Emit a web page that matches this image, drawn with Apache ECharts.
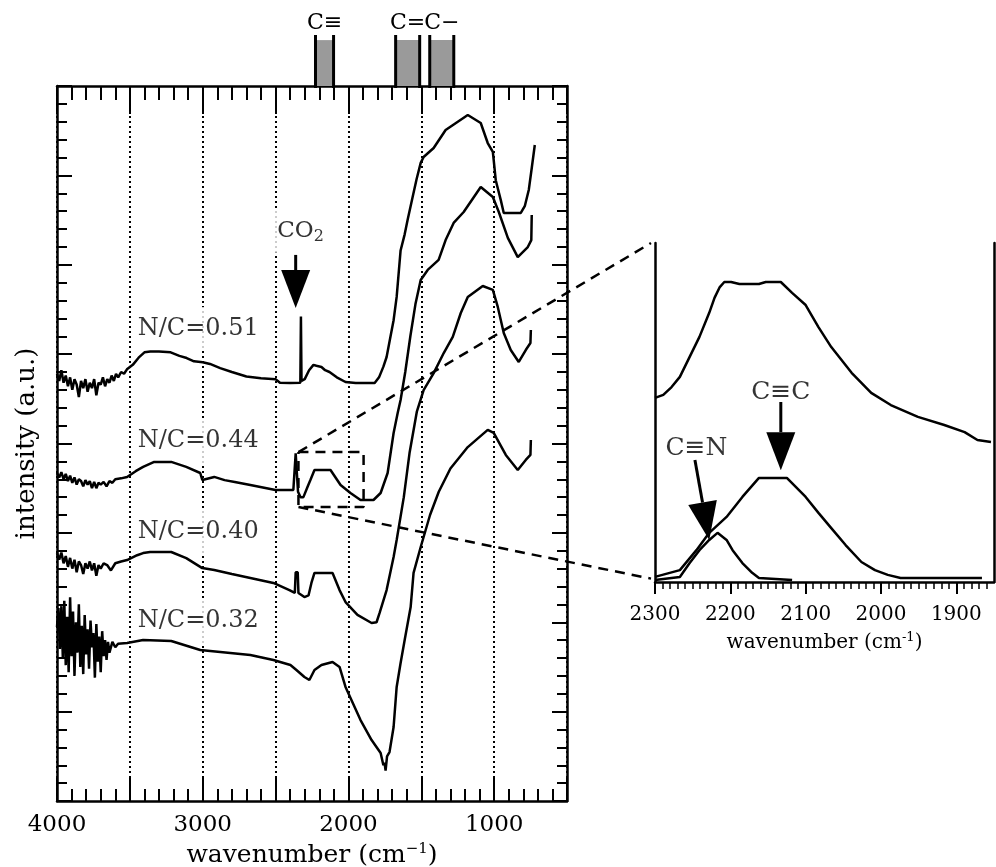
<!DOCTYPE html>
<html>
<head>
<meta charset="utf-8">
<script src="https://cdn.jsdelivr.net/npm/echarts@6.0.0/dist/echarts.min.js"></script>
<style>html,body{margin:0;padding:0;background:#fff}#chart{width:996px;height:867px}</style>
</head>
<body>
<div id="chart"></div>
<script>
// ---- IR spectra, [wavenumber cm^-1, intensity a.u.] ----
const spec051 = [[4000,23.9],[3985,23.5],[3970,24.1],[3955,23.4],[3940,23.8],[3925,23.2],[3910,23.7],[3895,23.0],[3880,23.6],[3865,23.3],[3850,22.6],[3835,23.5],[3820,23.1],[3805,23.6],[3790,22.9],[3775,23.4],[3760,23.1],[3745,23.6],[3730,22.7],[3715,23.4],[3700,23.3],[3685,23.7],[3670,23.2],[3655,23.6],[3640,23.4],[3625,23.8],[3610,23.5],[3595,23.9],[3580,23.7],[3560,24.0],[3540,23.9],[3520,24.15],[3480,24.4],[3440,24.8],[3400,25.1],[3360,25.15],[3300,25.15],[3220,25.1],[3160,24.9],[3110,24.78],[3060,24.6],[3000,24.55],[2950,24.45],[2880,24.22],[2800,24.0],[2700,23.75],[2600,23.65],[2500,23.6],[2470,23.4],[2400,23.38],[2330,23.4],[2326,27.1],[2322,23.5],[2310,23.4],[2300,23.6],[2270,24.1],[2240,24.4],[2220,24.35],[2185,24.28],[2160,24.1],[2130,24.0],[2080,23.7],[2020,23.44],[1950,23.38],[1820,23.38],[1790,23.7],[1760,24.3],[1738,24.84],[1711,26.0],[1690,26.9],[1669,28.2],[1642,30.8],[1614,31.7],[1594,32.5],[1559,33.8],[1532,34.8],[1504,35.7],[1484,36.03],[1415,36.53],[1333,37.54],[1181,38.38],[1092,37.93],[1044,36.81],[1009,36.31],[1003,35.86],[989,34.73],[954,33.6],[934,32.9],[817,32.9],[789,33.3],[762,34.2],[741,35.47],[728,35.5],[721,36.7]];
const spec044 = [[4000,18.35],[3985,18.1],[3970,18.4],[3955,18.0],[3940,18.3],[3925,17.9],[3910,18.2],[3895,17.8],[3880,18.1],[3865,17.7],[3850,18.0],[3835,17.9],[3820,17.6],[3805,17.95],[3790,17.7],[3775,17.9],[3760,17.5],[3745,17.85],[3730,17.5],[3715,17.8],[3700,17.7],[3680,17.85],[3660,17.6],[3640,17.9],[3620,17.8],[3600,18.0],[3560,18.05],[3519,18.13],[3460,18.45],[3409,18.69],[3333,18.97],[3216,18.97],[3113,18.69],[3017,18.35],[3003,17.96],[2921,18.13],[2850,17.95],[2780,17.85],[2673,17.68],[2501,17.4],[2378,17.4],[2366,17.45],[2362,19.45],[2350,19.4],[2346,17.3],[2329,17.0],[2309,17.0],[2281,17.57],[2261,17.96],[2233,18.52],[2123,18.52],[2054,17.68],[1986,17.23],[1917,16.84],[1828,16.84],[1779,17.23],[1731,18.35],[1690,20.59],[1662,21.71],[1642,22.43],[1610,24.0],[1575,26.0],[1540,27.8],[1504,29.15],[1456,29.71],[1381,30.27],[1333,31.38],[1278,32.34],[1209,32.95],[1092,34.35],[1009,33.79],[968,32.95],[906,31.5],[838,30.43],[769,30.99],[745,31.38],[742,32.78]];
const spec040 = [[4000,13.87],[3985,13.5],[3970,13.9],[3955,13.3],[3940,13.7],[3925,13.1],[3910,13.6],[3895,13.0],[3880,13.5],[3865,12.8],[3850,13.4],[3835,13.2],[3820,12.7],[3805,13.3],[3790,13.0],[3775,13.4],[3760,12.9],[3745,13.3],[3730,12.6],[3715,13.2],[3700,13.0],[3680,13.3],[3656,13.2],[3630,12.9],[3600,13.3],[3560,13.4],[3519,13.48],[3450,13.75],[3409,13.87],[3361,13.93],[3216,13.93],[3113,13.59],[3003,13.03],[2921,12.92],[2800,12.7],[2673,12.48],[2515,12.2],[2405,11.8],[2368,11.64],[2362,12.8],[2348,12.8],[2343,11.64],[2302,11.41],[2274,11.5],[2254,12.2],[2233,12.76],[2109,12.76],[2061,11.8],[2020,11.13],[1938,10.41],[1841,9.96],[1807,10.0],[1786,10.52],[1738,11.8],[1690,13.65],[1669,14.6],[1620,17.0],[1580,19.5],[1530,21.8],[1484,22.99],[1415,23.94],[1346,25.06],[1284,25.96],[1229,27.3],[1181,28.2],[1078,28.81],[1009,28.59],[975,27.64],[934,26.18],[886,25.23],[831,24.56],[783,25.23],[751,25.62],[748,26.35]];
const spec032 = [[4000,9.73],[3990,10.8],[3980,8.5],[3970,10.9],[3960,8.0],[3950,11.2],[3940,7.6],[3930,10.3],[3920,7.2],[3910,11.4],[3900,8.1],[3890,10.6],[3880,7.0],[3870,10.0],[3860,8.3],[3850,11.0],[3840,7.5],[3830,9.8],[3820,7.1],[3810,10.4],[3800,8.2],[3790,9.6],[3780,7.4],[3770,10.1],[3760,8.6],[3750,9.4],[3740,6.9],[3730,9.9],[3720,7.8],[3710,9.2],[3700,7.2],[3690,9.5],[3680,8.1],[3670,9.0],[3660,7.9],[3650,8.9],[3640,8.3],[3620,8.9],[3600,8.6],[3581,8.8],[3519,8.84],[3409,9.01],[3216,8.95],[3017,8.45],[2673,8.17],[2515,7.89],[2398,7.61],[2357,7.33],[2302,6.94],[2268,6.77],[2233,7.33],[2185,7.61],[2109,7.78],[2061,7.5],[2020,6.38],[1917,4.53],[1841,3.41],[1779,2.69],[1760,2.0],[1752,2.13],[1745,1.7],[1735,2.5],[1718,2.74],[1690,4.14],[1669,6.38],[1642,7.72],[1614,9.01],[1573,10.85],[1553,12.76],[1504,14.21],[1440,16.0],[1380,17.3],[1300,18.6],[1181,19.8],[1044,20.76],[1003,20.59],[920,19.36],[838,18.52],[783,19.08],[751,19.36],[748,20.2]];

// ---- enlarged 2300-1850 region and its two fitted components ----
const detailSpec = [[2300,54.3],[2289,55.2],[2278,57.5],[2267,60.5],[2254,66.4],[2241,72.3],[2228,79.4],[2221,83.8],[2214,87.0],[2208,88.5],[2199,88.5],[2188,87.9],[2162,87.9],[2153,88.5],[2133,88.5],[2118,85.3],[2100,81.7],[2083,75.2],[2066,69.3],[2039,61.7],[2013,55.8],[1987,52.2],[1951,48.7],[1916,46.3],[1889,44.2],[1872,41.9],[1854,41.3]];
const fitCC = [[2300,1.5],[2267,3.5],[2245,9.4],[2228,14.5],[2205,19.2],[2184,25.1],[2162,30.7],[2125,30.7],[2100,25.1],[2083,20.4],[2066,15.9],[2047,10.9],[2026,5.9],[2008,3.5],[1991,2.1],[1974,1.2],[1866,1.2]];
const fitCN = [[2300,0.6],[2267,1.5],[2254,5.6],[2241,9.4],[2228,12.4],[2217,14.5],[2205,12.4],[2197,9.4],[2184,5.6],[2171,2.7],[2162,1.2],[2118,0.6]];

// ---- labels and annotations ----
const ncLabels = [['N/C=0.51',3031,26.41],['N/C=0.44',3031,20.14],['N/C=0.40',3031,15.05],['N/C=0.32',3031,10.07]];
const co2Label = ['CO2',2329,31.9];
const co2Arrow = [[2362,30.55,2362,27.58]];           // [x0,y0,xTip,yTip]
const detailArrows = [[2133,53.1,2133,33.0],[2247,36.0,2228,12.4]];
const detailLabels = [['C≡C',2133,55.8],['C≡N',2245,39.5]];
const zoomWn = [2343,1896];
const zoomV = [16.45,19.52];
const bondRanges = [[2226,2102],[1676,1511],[1442,1277]];
const bondNames = ['C≡','C=','C−'];
const xTickLabels = [4000,3000,2000,1000];
const detailTicks = [2300,2200,2100,2000,1900];
const detailMinor = [];
for (let w = 1860; w < 2300; w += 10) if (w % 100 !== 0) detailMinor.push(w);

const FONT = '"DejaVu Serif", serif';
const BLACK = '#000';

const chart = echarts.init(document.getElementById('chart'), null, {renderer: 'canvas'});

function frameAxisX(pos, major, minor, showLabel) {
  return {
    type: 'value', gridIndex: 0, position: pos, min: 500, max: 4000, interval: 500, inverse: true,
    axisLine: {show: true, onZero: false, lineStyle: {color: BLACK, width: 2.5}},
    axisTick: {show: true, inside: true, length: major, lineStyle: {color: BLACK, width: 2}},
    minorTick: {show: true, splitNumber: 5, length: minor, lineStyle: {color: BLACK, width: 2}},
    axisLabel: {show: showLabel, color: BLACK, fontFamily: FONT, fontSize: 23, margin: 13,
      formatter: v => xTickLabels.includes(v) ? String(v) : ''},
    splitLine: {show: pos === 'bottom', lineStyle: {color: BLACK, width: 2, type: [2, 3]}},
    minorSplitLine: {show: false}
  };
}
function frameAxisY(pos, name) {
  return {
    type: 'value', gridIndex: 0, position: pos, min: 0, max: 40, interval: 5,
    axisLine: {show: true, onZero: false, lineStyle: {color: BLACK, width: 2.5}},
    axisTick: {show: true, inside: true, length: 15, lineStyle: {color: BLACK, width: 2}},
    minorTick: {show: true, splitNumber: 5, length: 10, lineStyle: {color: BLACK, width: 2}},
    axisLabel: {show: false}, splitLine: {show: false},
    name: name || '', nameLocation: 'middle', nameGap: 17,
    nameTextStyle: {color: BLACK, fontFamily: FONT, fontSize: 26}
  };
}

function arrowItem(params, api) {
  const p0 = api.coord([api.value(0), api.value(1)]);
  const p1 = api.coord([api.value(2), api.value(3)]);
  const dx = p1[0] - p0[0], dy = p1[1] - p0[1];
  const len = Math.hypot(dx, dy);
  const ux = dx / len, uy = dy / len;
  const headLen = 38, headW = 29;
  const bx = p1[0] - ux * headLen, by = p1[1] - uy * headLen;
  const nx = -uy, ny = ux;
  return {type: 'group', children: [
    {type: 'line', shape: {x1: p0[0], y1: p0[1], x2: bx, y2: by}, style: {stroke: BLACK, lineWidth: 3}},
    {type: 'polygon', shape: {points: [[bx + nx * headW / 2, by + ny * headW / 2], [bx - nx * headW / 2, by - ny * headW / 2], [p1[0], p1[1]]]}, style: {fill: BLACK}}
  ]};
}

function bondItem(params, api) {
  const xa = api.value(0), xb = api.value(1);
  const bl = api.coord([xa, 0]), br = api.coord([xb, 0]);
  const tl = api.coord([xa, 1]);
  const shadeTop = api.coord([xa, 0.9])[1];
  const low = bl[1] + 2;
  const cx = (bl[0] + br[0]) / 2;
  return {type: 'group', children: [
    {type: 'rect', shape: {x: bl[0], y: shadeTop, width: br[0] - bl[0], height: bl[1] - shadeTop}, style: {fill: '#9a9a9a'}},
    {type: 'line', shape: {x1: bl[0], y1: tl[1], x2: bl[0], y2: low}, style: {stroke: BLACK, lineWidth: 3}},
    {type: 'line', shape: {x1: br[0], y1: tl[1], x2: br[0], y2: low}, style: {stroke: BLACK, lineWidth: 3}},
    {type: 'text', style: {text: bondNames[params.dataIndex], x: cx, y: tl[1] - 12, align: 'center', verticalAlign: 'middle', fontFamily: FONT, fontSize: 22, fill: BLACK}}
  ]};
}

const specLine = (name, data) => ({
  name, type: 'line', xAxisIndex: 0, yAxisIndex: 0, data, symbol: 'none', z: 3,
  lineStyle: {color: BLACK, width: 2.5}, animation: false
});

const option = {
  backgroundColor: '#fff',
  animation: false,
  grid: [
    {left: 57, top: 86, width: 510, height: 715, outerBoundsMode: 'none'},
    {left: 655, top: 243, width: 339, height: 339, outerBoundsMode: 'none'},
    {left: 57, top: 35, width: 510, height: 51, outerBoundsMode: 'none'}
  ],
  xAxis: [
    Object.assign(frameAxisX('bottom', 24, 12, true), {
      name: '{m|wavenumber (cm}{s|−1}{m|)}', nameLocation: 'middle', nameGap: 36,
      nameTextStyle: {rich: {
        m: {fontFamily: FONT, fontSize: 25, color: BLACK, lineHeight: 28},
        s: {fontFamily: FONT, fontSize: 15, color: BLACK, lineHeight: 15, verticalAlign: 'top'}
      }}
    }),
    frameAxisX('top', 28, 14, false),
    {
      type: 'value', gridIndex: 1, position: 'bottom', min: 1850, max: 2300, inverse: true,
      axisLine: {show: true, onZero: false, lineStyle: {color: BLACK, width: 2.5}},
      axisTick: {show: true, inside: false, length: 12, customValues: detailTicks, lineStyle: {color: BLACK, width: 2}},
      axisLabel: {show: true, customValues: detailTicks, color: BLACK, fontFamily: FONT, fontSize: 20, margin: 23,
        formatter: v => String(v)},
      splitLine: {show: false},
      name: '{m|wavenumber (cm}{s|-1}{m|)}', nameLocation: 'middle', nameGap: 49,
      nameTextStyle: {rich: {
        m: {fontFamily: FONT, fontSize: 20, color: BLACK, lineHeight: 24},
        s: {fontFamily: FONT, fontSize: 13, color: BLACK, lineHeight: 13, verticalAlign: 'top'}
      }}
    },
    {
      type: 'value', gridIndex: 1, position: 'bottom', min: 1850, max: 2300, inverse: true,
      axisLine: {show: false},
      axisTick: {show: true, inside: false, length: 7, customValues: detailMinor, lineStyle: {color: BLACK, width: 1.5}},
      axisLabel: {show: false}, splitLine: {show: false}
    },
    {type: 'value', gridIndex: 2, min: 500, max: 4000, inverse: true, show: false}
  ],
  yAxis: [
    frameAxisY('left', 'intensity (a.u.)'),
    frameAxisY('right'),
    {type: 'value', gridIndex: 1, position: 'left', min: 0, max: 100,
      axisLine: {show: true, onZero: false, lineStyle: {color: BLACK, width: 2.5}},
      axisTick: {show: false}, axisLabel: {show: false}, splitLine: {show: false}},
    {type: 'value', gridIndex: 1, position: 'right', min: 0, max: 100,
      axisLine: {show: true, onZero: false, lineStyle: {color: BLACK, width: 2.5}},
      axisTick: {show: false}, axisLabel: {show: false}, splitLine: {show: false}},
    {type: 'value', gridIndex: 2, min: 0, max: 1, show: false}
  ],
  series: [
    specLine('N/C=0.51', spec051),
    specLine('N/C=0.44', spec044),
    specLine('N/C=0.40', spec040),
    specLine('N/C=0.32', spec032),
    {
      name: 'zoom', type: 'line', xAxisIndex: 0, yAxisIndex: 0, symbol: 'none', z: 4,
      data: [[zoomWn[0], zoomV[1]], [zoomWn[1], zoomV[1]], [zoomWn[1], zoomV[0]], [zoomWn[0], zoomV[0]], [zoomWn[0], zoomV[1]]],
      lineStyle: {color: BLACK, width: 2.5, type: [10, 7]}
    },
    {
      name: 'sample labels', type: 'scatter', xAxisIndex: 0, yAxisIndex: 0, z: 2,
      symbolSize: 1, itemStyle: {color: 'rgba(0,0,0,0)'},
      data: ncLabels.map(d => ({name: d[0], value: [d[1], d[2]]})),
      label: {show: true, position: 'inside', formatter: p => p.name, color: BLACK, fontFamily: FONT, fontSize: 24,
        lineHeight: 30, backgroundColor: '#fff', padding: [8, 4, 6, 4]}
    },
    {
      name: 'co2 label', type: 'scatter', xAxisIndex: 0, yAxisIndex: 0, z: 2,
      symbolSize: 1, itemStyle: {color: 'rgba(0,0,0,0)'},
      data: [{name: co2Label[0], value: [co2Label[1], co2Label[2]]}],
      label: {show: true, position: 'inside', formatter: '{m|CO}{s|2}', backgroundColor: '#fff', padding: [8, 4, 8, 4],
        rich: {
          m: {fontFamily: FONT, fontSize: 23, color: BLACK, lineHeight: 28},
          s: {fontFamily: FONT, fontSize: 16, color: BLACK, lineHeight: 16, verticalAlign: 'bottom'}
        }}
    },
    {
      name: 'co2 arrow', type: 'custom', xAxisIndex: 0, yAxisIndex: 0, z: 5, clip: false,
      renderItem: arrowItem, data: co2Arrow
    },
    {name: 'spectrum', type: 'line', xAxisIndex: 2, yAxisIndex: 2, data: detailSpec, symbol: 'none', lineStyle: {color: BLACK, width: 2.5}},
    {name: 'C≡C', type: 'line', xAxisIndex: 2, yAxisIndex: 2, data: fitCC, symbol: 'none', lineStyle: {color: BLACK, width: 2.5}},
    {name: 'C≡N', type: 'line', xAxisIndex: 2, yAxisIndex: 2, data: fitCN, symbol: 'none', lineStyle: {color: BLACK, width: 2.5}},
    {
      name: 'detail arrows', type: 'custom', xAxisIndex: 2, yAxisIndex: 2, z: 5, clip: false,
      renderItem: arrowItem, data: detailArrows
    },
    {
      name: 'detail labels', type: 'scatter', xAxisIndex: 2, yAxisIndex: 2, z: 5,
      symbolSize: 1, itemStyle: {color: 'rgba(0,0,0,0)'},
      data: detailLabels.map(d => ({name: d[0], value: [d[1], d[2]]})),
      label: {show: true, position: 'inside', formatter: p => p.name, color: BLACK, fontFamily: FONT, fontSize: 25}
    },
    {
      name: 'bonds', type: 'custom', xAxisIndex: 4, yAxisIndex: 4, clip: false,
      renderItem: bondItem, data: bondRanges
    }
  ]
};
chart.setOption(option);

// dashed guide lines from the boxed region to the enlarged panel
const a = chart.convertToPixel({seriesIndex: 4}, [zoomWn[0], zoomV[1]]);
const b = chart.convertToPixel({seriesIndex: 4}, [zoomWn[0], zoomV[0]]);
const c = chart.convertToPixel({seriesIndex: 8}, [2300, 100]);
const d = chart.convertToPixel({seriesIndex: 8}, [2300, 1]);
const guide = {stroke: BLACK, lineWidth: 2.5, lineDash: [10, 7]};
chart.setOption({graphic: [
  {type: 'line', shape: {x1: a[0], y1: a[1], x2: c[0] - 4, y2: c[1]}, style: guide, z: 10},
  {type: 'line', shape: {x1: b[0], y1: b[1], x2: d[0] - 4, y2: d[1]}, style: guide, z: 10}
]});
</script>
</body>
</html>
